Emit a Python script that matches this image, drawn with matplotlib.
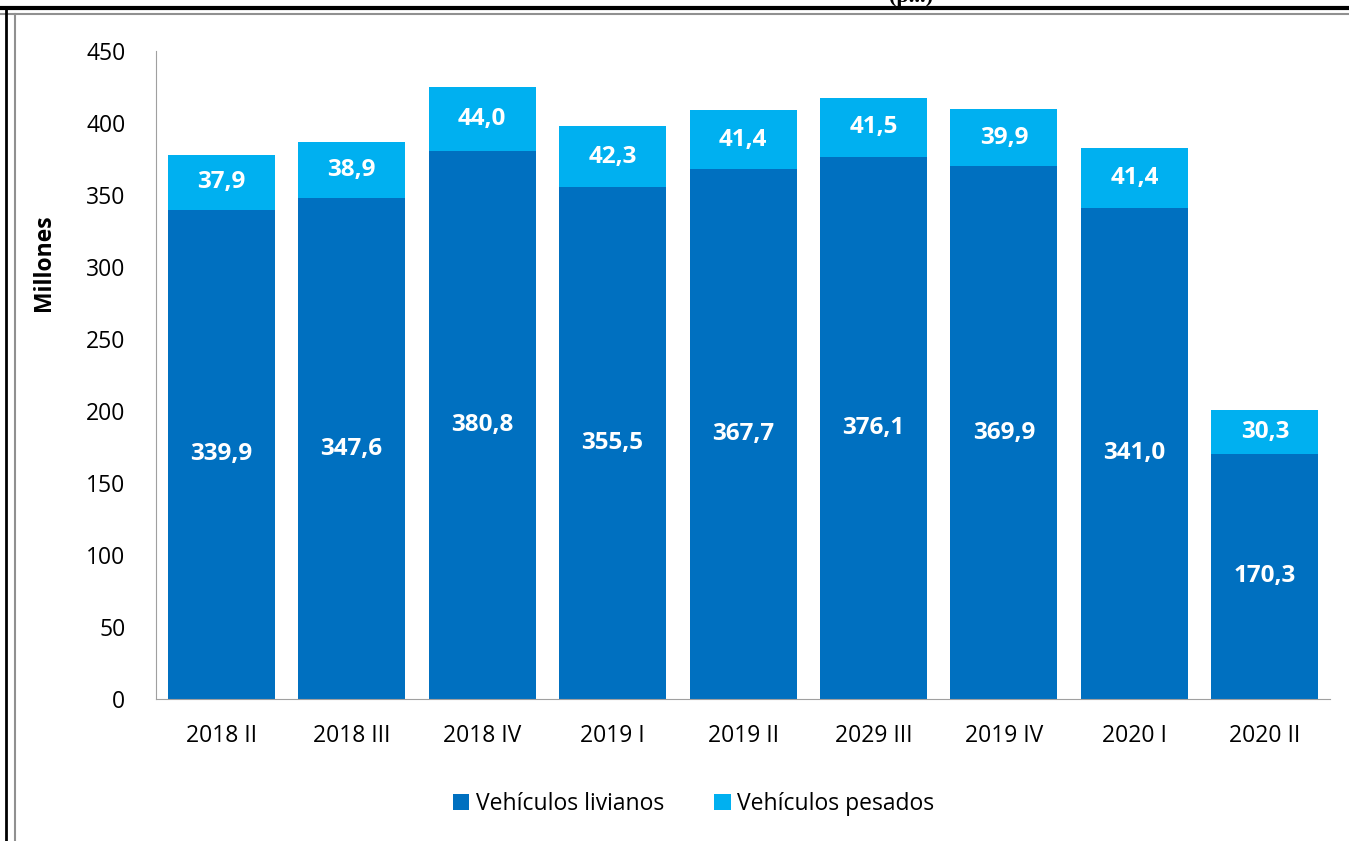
import matplotlib.pyplot as plt
import numpy as np

periodos = ['2018 II', '2018 III', '2018 IV', '2019 I', '2019 II', '2029 III', '2019 IV', '2020 I', '2020 II']
livianos = [339.9, 347.6, 380.8, 355.5, 367.7, 376.1, 369.9, 341.0, 170.3]
pesados = [37.9, 38.9, 44.0, 42.3, 41.4, 41.5, 39.9, 41.4, 30.3]

plt.rcParams['font.family'] = ['Open Sans', 'DejaVu Sans']

fig = plt.figure(figsize=(13.49, 8.41), dpi=100)
ax = fig.add_axes([0.1156, 0.1689, 0.8704, 0.7705])

x = np.arange(len(periodos))
ax.bar(x, livianos, width=0.82, color='#0070C0', label='Vehículos livianos')
ax.bar(x, pesados, width=0.82, bottom=livianos, color='#00B0F0', label='Vehículos pesados')

fmt = lambda v: f'{v:.1f}'.replace('.', ',')
for xi, l, p in zip(x, livianos, pesados):
    ax.text(xi, l / 2, fmt(l), ha='center', va='center', color='white', fontsize=17.5, fontweight='bold')
    ax.text(xi, l + p / 2, fmt(p), ha='center', va='center', color='white', fontsize=17.5, fontweight='bold')

ax.set_xlim(-0.5, len(periodos) - 0.5)
ax.set_ylim(0, 450)
ax.set_yticks(range(0, 451, 50))
ax.set_xticks(x)
ax.set_xticklabels(periodos)
ax.tick_params(axis='both', labelsize=16.5, colors='black')
ax.tick_params(axis='x', length=0, pad=18)
ax.tick_params(axis='y', length=0, pad=22)
for s in ['top', 'right']:
    ax.spines[s].set_visible(False)
for s in ['left', 'bottom']:
    ax.spines[s].set_color('#A0A0A0')
ax.set_ylabel('Millones', fontsize=16.5, fontweight='bold')
ax.yaxis.set_label_coords(-0.085, 0.674)

ax.legend(loc='center', bbox_to_anchor=(0.458, -0.162), ncol=2, frameon=False,
          fontsize=16.5, handlelength=0.7, handleheight=0.7, handletextpad=0.3, columnspacing=2.2)

# marcos de la página
fig.add_artist(plt.Line2D([0, 1], [1 - 8 / 841, 1 - 8 / 841], color='black', lw=3))
fig.add_artist(plt.Line2D([0, 1], [1 - 14 / 841, 1 - 14 / 841], color='#909090', lw=1.5))
fig.add_artist(plt.Line2D([6 / 1349, 6 / 1349], [0, 1 - 8 / 841], color='black', lw=2))
fig.add_artist(plt.Line2D([15 / 1349, 15 / 1349], [0, 1 - 14 / 841], color='#909090', lw=1.5))
fig.text(0.675, 1.003, '(p...)', ha='center', va='center', fontsize=16, fontweight='bold',
         family='Liberation Serif')

fig.savefig('out.png', dpi=100)
